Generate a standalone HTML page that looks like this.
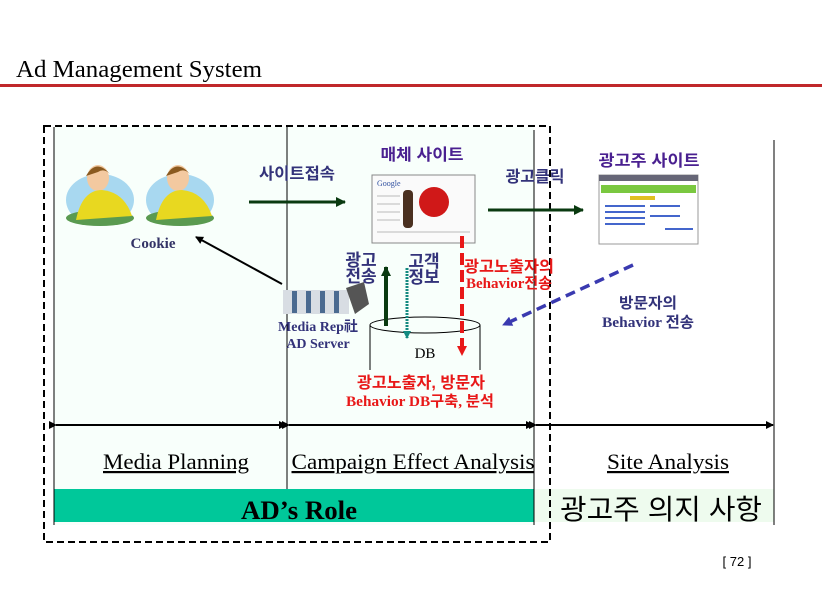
<!DOCTYPE html>
<html><head><meta charset="utf-8"><style>
html,body{margin:0;padding:0;background:#fff;}
svg{display:block;}
.k{font-family:"Liberation Sans","Noto Sans CJK KR",sans-serif;font-weight:bold;}
.s{font-family:"Liberation Serif","Noto Sans CJK KR",serif;}
</style></head><body>
<svg width="822" height="595" viewBox="0 0 822 595" xmlns="http://www.w3.org/2000/svg">
<defs>
<marker id="ab" markerWidth="8" markerHeight="8" refX="7" refY="4" orient="auto" markerUnits="userSpaceOnUse"><path d="M0,0 L8,4 L0,8 z" fill="#000"/></marker>
<marker id="ag" markerWidth="10" markerHeight="10" refX="9" refY="5" orient="auto" markerUnits="userSpaceOnUse"><path d="M0,0 L10,5 L0,10 z" fill="#0a3a10"/></marker>
<marker id="at" markerWidth="8" markerHeight="8" refX="7" refY="4" orient="auto" markerUnits="userSpaceOnUse"><path d="M0,0 L8,4 L0,8 z" fill="#138a80"/></marker>
<marker id="ar" markerWidth="10" markerHeight="10" refX="9" refY="5" orient="auto" markerUnits="userSpaceOnUse"><path d="M0,0 L10,5 L0,10 z" fill="#e81818"/></marker>
<marker id="au" markerWidth="10" markerHeight="10" refX="9" refY="5" orient="auto" markerUnits="userSpaceOnUse"><path d="M0,0 L10,5 L0,10 z" fill="#3a3ab0"/></marker>
</defs>
<text x="16" y="77" class="s" font-size="24.5" textLength="246" lengthAdjust="spacingAndGlyphs">Ad Management System</text>
<rect x="0" y="84" width="822" height="3" fill="#c0282a"/>
<rect x="54" y="127" width="480" height="398" fill="#f8fffb"/>
<rect x="54" y="489" width="480" height="33" fill="#00c89a"/>
<rect x="534" y="489" width="240" height="33" fill="#eefbee"/>
<line x1="54" y1="127" x2="54" y2="525" stroke="#000"/>
<line x1="287" y1="127" x2="287" y2="489" stroke="#000"/>
<line x1="534" y1="130" x2="534" y2="525" stroke="#000"/>
<line x1="774" y1="140" x2="774" y2="525" stroke="#000"/>
<rect x="44" y="126" width="506" height="416" fill="none" stroke="#000" stroke-width="2" stroke-dasharray="7,4"/>
<line x1="56" y1="425" x2="286" y2="425" stroke="#000" stroke-width="2" marker-end="url(#ab)" marker-start="url(#ab)"/>
<line x1="289" y1="425" x2="533" y2="425" stroke="#000" stroke-width="2" marker-end="url(#ab)" marker-start="url(#ab)"/>
<line x1="536" y1="425" x2="773" y2="425" stroke="#000" stroke-width="2" marker-end="url(#ab)" marker-start="url(#ab)"/>
<text x="176" y="469" class="s" font-size="22" text-anchor="middle" text-decoration="underline" textLength="146" lengthAdjust="spacingAndGlyphs">Media Planning</text>
<text x="413" y="469" class="s" font-size="22" text-anchor="middle" text-decoration="underline" textLength="243" lengthAdjust="spacingAndGlyphs">Campaign Effect Analysis</text>
<text x="668" y="469" class="s" font-size="22" text-anchor="middle" text-decoration="underline" textLength="122" lengthAdjust="spacingAndGlyphs">Site Analysis</text>
<text x="299" y="519" class="s" font-size="26" font-weight="bold" text-anchor="middle" textLength="116" lengthAdjust="spacingAndGlyphs">AD’s Role</text>
<text x="661" y="519" font-family="Liberation Sans,'Noto Sans CJK KR',sans-serif" font-size="28" text-anchor="middle" textLength="202" lengthAdjust="spacingAndGlyphs">광고주 의지 사항</text>
<text x="737" y="566" font-family="Liberation Sans,sans-serif" font-size="13" text-anchor="middle">[ 72 ]</text>
<g>
<ellipse cx="100" cy="200" rx="34" ry="26" fill="#a8d8f0"/>
<ellipse cx="100" cy="218" rx="34" ry="8" fill="#5a9a50"/>
<ellipse cx="98" cy="178" rx="11" ry="13" fill="#f3c9a0"/><path d="M86,176 q10,-18 24,-2 q-6,-6 -12,-2z" fill="#8a5a20"/>
<path d="M76,220 q6,-30 26,-30 q22,2 30,26z" fill="#e8d820"/>
<ellipse cx="180" cy="200" rx="34" ry="26" fill="#a8d8f0"/>
<ellipse cx="180" cy="218" rx="34" ry="8" fill="#5a9a50"/>
<ellipse cx="178" cy="178" rx="11" ry="13" fill="#f3c9a0"/><path d="M166,176 q10,-18 24,-2 q-6,-6 -12,-2z" fill="#8a5a20"/>
<path d="M156,220 q6,-30 26,-30 q22,2 30,26z" fill="#e8d820"/>
</g>
<text x="153" y="248" class="s" font-size="15" font-weight="bold" fill="#333366" text-anchor="middle">Cookie</text>
<text x="297" y="179" class="k" font-size="16" fill="#33337a" text-anchor="middle" textLength="76" lengthAdjust="spacingAndGlyphs">사이트접속</text>
<line x1="249" y1="202" x2="345" y2="202" stroke="#0a3a10" stroke-width="3" marker-end="url(#ag)"/>
<text x="422" y="160" class="k" font-size="16" fill="#4a2090" text-anchor="middle" textLength="83" lengthAdjust="spacingAndGlyphs">매체 사이트</text>
<rect x="372" y="175" width="103" height="68" fill="#fafafa" stroke="#888"/>
<text x="377" y="186" font-family="Liberation Serif,serif" font-size="8" fill="#3050a0">Google</text>
<g stroke="#bbb" stroke-width="1"><line x1="377" y1="196" x2="400" y2="196"/><line x1="377" y1="204" x2="400" y2="204"/><line x1="377" y1="212" x2="400" y2="212"/><line x1="377" y1="220" x2="400" y2="220"/><line x1="377" y1="232" x2="470" y2="232"/></g>
<rect x="403" y="190" width="10" height="38" rx="4" fill="#4a3020"/>
<circle cx="434" cy="202" r="15" fill="#d01818"/>
<text x="535" y="182" class="k" font-size="16" fill="#33337a" text-anchor="middle" textLength="59" lengthAdjust="spacingAndGlyphs">광고클릭</text>
<line x1="488" y1="210" x2="583" y2="210" stroke="#0a3a10" stroke-width="3" marker-end="url(#ag)"/>
<text x="649" y="166" class="k" font-size="16" fill="#4a2090" text-anchor="middle" textLength="101" lengthAdjust="spacingAndGlyphs">광고주 사이트</text>
<rect x="599" y="175" width="99" height="69" fill="#fff" stroke="#999"/>
<rect x="599" y="175" width="99" height="6" fill="#667"/>
<rect x="601" y="185" width="95" height="8" fill="#7ac840"/>
<g fill="#4466cc"><rect x="605" y="205" width="40" height="2"/><rect x="605" y="211" width="40" height="2"/><rect x="605" y="217" width="40" height="2"/><rect x="605" y="223" width="40" height="2"/><rect x="650" y="205" width="30" height="2"/><rect x="650" y="215" width="30" height="2"/><rect x="665" y="228" width="28" height="2"/></g>
<rect x="630" y="196" width="25" height="4" fill="#e0c020"/>
<rect x="283" y="290" width="66" height="24" fill="#d8dde3"/>
<g fill="#4a6a90"><rect x="292" y="291" width="5" height="22"/><rect x="306" y="291" width="5" height="22"/><rect x="320" y="291" width="5" height="22"/><rect x="334" y="291" width="5" height="22"/></g>
<path d="M346,288 l18,-6 l5,22 l-14,10z" fill="#555"/>
<text x="318" y="331" class="s" font-size="14" font-weight="bold" fill="#33337a" text-anchor="middle" textLength="80" lengthAdjust="spacingAndGlyphs">Media Rep社</text>
<text x="318" y="348" class="s" font-size="14" font-weight="bold" fill="#33337a" text-anchor="middle">AD Server</text>
<line x1="282" y1="284" x2="196" y2="237" stroke="#000" stroke-width="2" marker-end="url(#ab)"/>
<path d="M370,325 v45 M480,325 v45" stroke="#000" fill="none"/>
<ellipse cx="425" cy="325" rx="55" ry="8" fill="none" stroke="#000"/>
<text x="425" y="358" class="s" font-size="15" text-anchor="middle">DB</text>
<text x="361" y="266" class="k" font-size="17" fill="#33337a" text-anchor="middle">광고</text>
<text x="361" y="282" class="k" font-size="17" fill="#33337a" text-anchor="middle">전송</text>
<line x1="386" y1="326" x2="386" y2="267" stroke="#0a3a10" stroke-width="4" marker-end="url(#ag)"/>
<text x="424" y="267" class="k" font-size="17" fill="#33337a" text-anchor="middle">고객</text>
<text x="424" y="283" class="k" font-size="17" fill="#33337a" text-anchor="middle">정보</text>
<line x1="407" y1="268" x2="407" y2="338" stroke="#138a80" stroke-width="3" stroke-dasharray="2,1" marker-end="url(#at)"/>
<line x1="462" y1="236" x2="462" y2="355" stroke="#e81818" stroke-width="4" stroke-dasharray="12,5" marker-end="url(#ar)"/>
<text x="464" y="272" class="k" font-size="16" fill="#e81818" textLength="90" lengthAdjust="spacingAndGlyphs">광고노출자의</text>
<text x="466" y="288" class="s" font-size="15" font-weight="bold" fill="#e81818" textLength="86" lengthAdjust="spacingAndGlyphs">Behavior전송</text>
<text x="421" y="388" class="k" font-size="16" fill="#e81818" text-anchor="middle" textLength="128" lengthAdjust="spacingAndGlyphs">광고노출자, 방문자</text>
<text x="420" y="406" class="s" font-size="15" font-weight="bold" fill="#e81818" text-anchor="middle" textLength="148" lengthAdjust="spacingAndGlyphs">Behavior DB구축, 분석</text>
<line x1="633" y1="265" x2="503" y2="325" stroke="#3a3ab0" stroke-width="3.5" stroke-dasharray="10,6" marker-end="url(#au)"/>
<text x="648" y="308" class="k" font-size="15" fill="#33337a" text-anchor="middle" textLength="58" lengthAdjust="spacingAndGlyphs">방문자의</text>
<text x="648" y="327" class="s" font-size="15" font-weight="bold" fill="#33337a" text-anchor="middle" textLength="92" lengthAdjust="spacingAndGlyphs">Behavior 전송</text>
</svg>
</body></html>
